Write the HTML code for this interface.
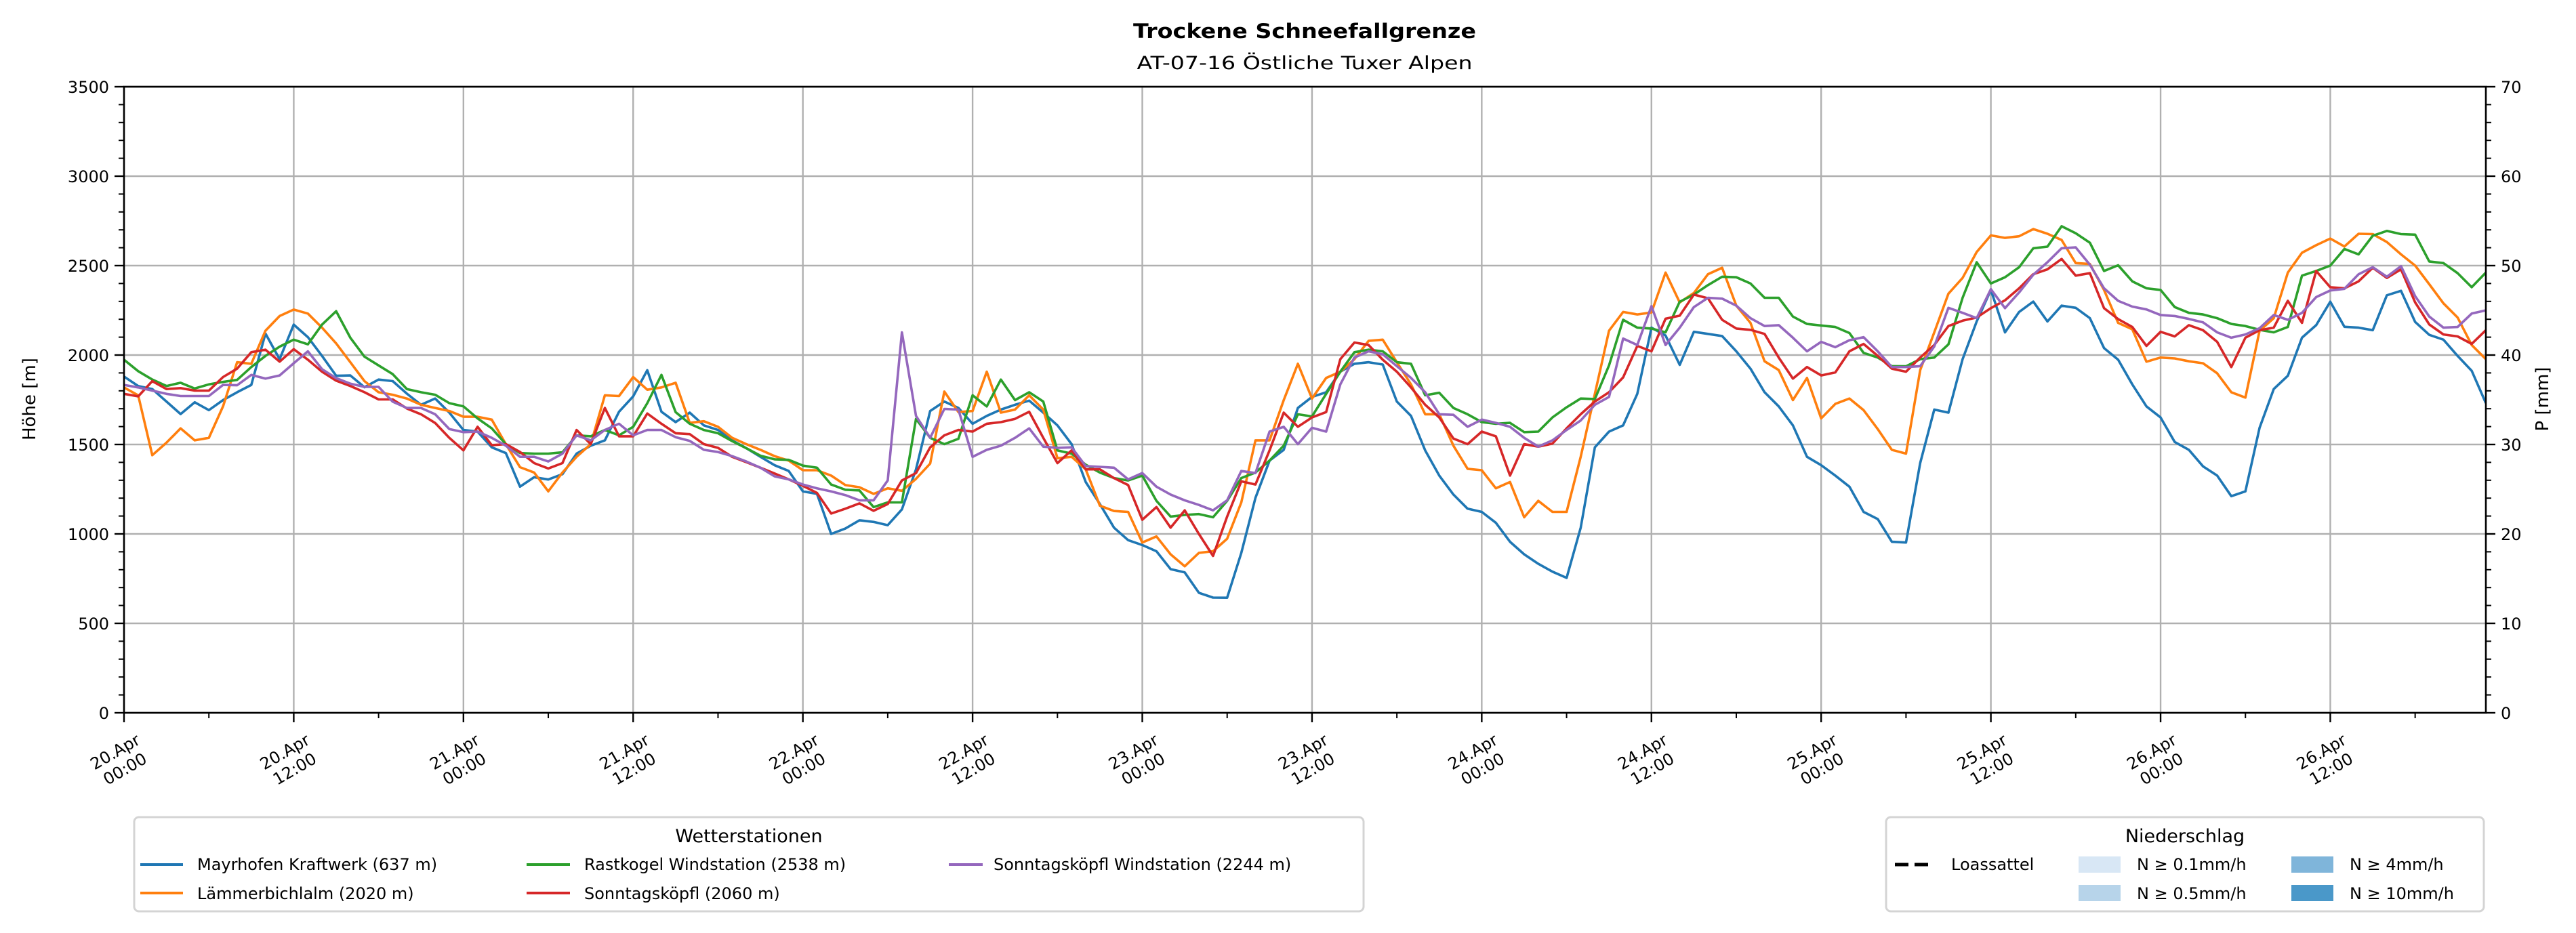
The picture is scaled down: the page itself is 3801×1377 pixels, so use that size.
<!DOCTYPE html>
<html><head><meta charset="utf-8"><style>
html,body{margin:0;padding:0;background:#fff;}
svg{display:block;font-family:"DejaVu Sans","Liberation Sans",sans-serif;}
</style></head><body>
<svg id="chart" xmlns="http://www.w3.org/2000/svg" width="3801" height="1377" viewBox="0 0 3801 1377">
<rect x="0" y="0" width="3801" height="1377" fill="#fff"/>
<text x="1925" y="56" text-anchor="middle" font-size="29" font-weight="bold" textLength="506" lengthAdjust="spacingAndGlyphs">Trockene Schneefallgrenze</text>
<text x="1925" y="102" text-anchor="middle" font-size="27" textLength="495" lengthAdjust="spacingAndGlyphs">AT-07-16 Östliche Tuxer Alpen</text>
<g id="grid"></g>
<g id="series"></g>
<g id="axes"></g>
<text transform="translate(52,589) rotate(-90)" text-anchor="middle" font-size="26">Höhe [m]</text>
<text transform="translate(3760,589) rotate(-90)" text-anchor="middle" font-size="26">P [mm]</text>

<g>
<rect x="198" y="1206" width="1814" height="139" rx="7" fill="#fff" stroke="#d4d4d4" stroke-width="3"/>
<text x="1105" y="1243" text-anchor="middle" font-size="27">Wetterstationen</text>
<g><line x1="207" y1="1276" x2="270" y2="1276" stroke="#1f77b4" stroke-width="4"/><text x="291" y="1284" font-size="24">Mayrhofen Kraftwerk (637 m)</text></g>
<g><line x1="207" y1="1318" x2="270" y2="1318" stroke="#ff7f0e" stroke-width="4"/><text x="291" y="1327" font-size="24">Lämmerbichlalm (2020 m)</text></g>
<g><line x1="777" y1="1276" x2="841" y2="1276" stroke="#2ca02c" stroke-width="4"/><text x="862" y="1284" font-size="24">Rastkogel Windstation (2538 m)</text></g>
<g><line x1="777" y1="1318" x2="841" y2="1318" stroke="#d62728" stroke-width="4"/><text x="862" y="1327" font-size="24">Sonntagsköpfl (2060 m)</text></g>
<g><line x1="1400" y1="1276" x2="1450" y2="1276" stroke="#9467bd" stroke-width="4"/><text x="1466" y="1284" font-size="24">Sonntagsköpfl Windstation (2244 m)</text></g>
</g>

<g>
<rect x="2783" y="1206" width="882" height="139" rx="7" fill="#fff" stroke="#d4d4d4" stroke-width="3"/>
<text x="3224" y="1243" text-anchor="middle" font-size="27">Niederschlag</text>
<g><line x1="2796" y1="1276" x2="2854" y2="1276" stroke="#000" stroke-width="5" stroke-dasharray="20,9"/><text x="2879" y="1284" font-size="24">Loassattel</text></g>
<g><rect x="3067" y="1264" width="62" height="24" fill="#d8e7f5"/><text x="3153" y="1284" font-size="24">N ≥ 0.1mm/h</text></g>
<g><rect x="3067" y="1306" width="62" height="24" fill="#b7d4ea"/><text x="3153" y="1327" font-size="24">N ≥ 0.5mm/h</text></g>
<g><rect x="3381" y="1264" width="62" height="24" fill="#7fb5da"/><text x="3467" y="1284" font-size="24">N ≥ 4mm/h</text></g>
<g><rect x="3381" y="1306" width="62" height="24" fill="#4a98c9"/><text x="3467" y="1327" font-size="24">N ≥ 10mm/h</text></g>
</g>
</svg>
<script>
// ---- data (hourly, starting 20.Apr 00:00) ----
const xTickLabels = ["20.Apr|00:00","20.Apr|12:00","21.Apr|00:00","21.Apr|12:00","22.Apr|00:00","22.Apr|12:00","23.Apr|00:00","23.Apr|12:00","24.Apr|00:00","24.Apr|12:00","25.Apr|00:00","25.Apr|12:00","26.Apr|00:00","26.Apr|12:00"];
const yTicks = [0,500,1000,1500,2000,2500,3000,3500];
const y2Ticks = [0,10,20,30,40,50,60,70];
const seriesNames = ["Mayrhofen Kraftwerk","Lämmerbichlalm","Rastkogel Windstation","Sonntagsköpfl","Sonntagsköpfl Windstation"];
const mayrhofen = [1880,1827,1810,1740,1670,1736,1692,1748,1792,1833,2120,1977,2170,2100,1995,1884,1886,1820,1863,1854,1784,1722,1757,1678,1581,1572,1484,1452,1264,1317,1304,1334,1449,1493,1523,1683,1769,1915,1683,1625,1678,1607,
1581,1523,1479,1431,1384,1352,1238,1224,1000,1030,1076,1067,1049,1137,1361,1687,1740,1704,1616,1660,1695,1722,1745,1678,1607,1502,1290,1167,1035,965,938,903,803,785,671,644,643,894,1202,1410,1470,1704,1766,
1792,1907,1951,1960,1947,1740,1660,1467,1326,1220,1141,1123,1062,956,886,833,789,754,1035,1484,1572,1607,1783,2153,2109,1945,2130,2118,2106,2021,1924,1792,1713,1607,1431,1384,1326,1264,1123,1083,956,952,
1396,1695,1678,1977,2188,2364,2127,2241,2299,2188,2276,2264,2206,2039,1974,1836,1713,1651,1514,1470,1378,1326,1211,1238,1593,1810,1884,2097,2167,2298,2158,2153,2139,2334,2359,2185,2113,2086,1995,1912,1731];
const laemmerbichl = [1819,1775,1440,1510,1590,1523,1537,1713,1960,1951,2136,2218,2254,2232,2153,2065,1960,1854,1792,1778,1757,1722,1704,1687,1655,1655,1639,1502,1373,1343,1238,1343,1431,1502,1775,1771,1877,1806,1819,1845,1621,1630,
1599,1537,1502,1470,1435,1410,1356,1356,1326,1273,1261,1224,1255,1241,1308,1393,1796,1681,1687,1907,1678,1695,1775,1695,1423,1431,1361,1158,1128,1123,952,986,886,819,894,903,973,1176,1523,1523,1748,1951,1757,
1872,1907,1977,2079,2086,1960,1836,1669,1669,1493,1364,1356,1255,1290,1093,1185,1123,1123,1431,1783,2136,2241,2227,2238,2461,2294,2347,2452,2488,2276,2180,1965,1916,1748,1872,1646,1727,1757,1692,1586,1470,1449,
1915,2127,2343,2431,2576,2669,2655,2664,2704,2678,2643,2514,2509,2364,2180,2144,1963,1986,1981,1965,1954,1898,1792,1762,2136,2206,2461,2572,2614,2651,2607,2678,2676,2632,2563,2500,2396,2289,2210,2056,1977];
const rastkogel = [1974,1910,1863,1827,1845,1813,1836,1850,1861,1933,1995,2047,2086,2060,2170,2245,2097,1991,1942,1893,1810,1792,1778,1731,1713,1646,1590,1502,1452,1449,1449,1456,1551,1546,1581,1551,1599,1731,1889,1681,1616,1581,
1563,1519,1479,1437,1417,1414,1382,1370,1276,1247,1243,1150,1176,1176,1643,1537,1502,1532,1775,1713,1863,1748,1792,1740,1467,1449,1387,1343,1312,1299,1326,1185,1097,1106,1111,1093,1185,1312,1343,1410,1493,1669,1657,
1783,1907,2016,2030,2021,1960,1951,1775,1789,1704,1669,1625,1616,1621,1569,1572,1651,1708,1757,1754,1942,2197,2153,2148,2127,2298,2338,2391,2438,2435,2400,2320,2320,2215,2174,2165,2157,2123,2012,1986,1938,1937,
1977,1986,2060,2320,2519,2400,2435,2491,2597,2606,2720,2681,2628,2470,2502,2412,2373,2364,2268,2236,2227,2206,2174,2162,2141,2127,2157,2444,2470,2500,2593,2563,2667,2694,2676,2673,2523,2514,2458,2379,2461];
const sonntagskoepfl = [1783,1769,1854,1810,1815,1801,1801,1877,1924,2016,2030,1963,2033,1974,1907,1857,1827,1792,1752,1752,1701,1669,1620,1537,1467,1599,1496,1502,1458,1396,1366,1396,1581,1502,1704,1546,1546,1673,1616,1563,1558,1502,
1481,1431,1401,1370,1338,1305,1269,1229,1114,1141,1171,1129,1167,1299,1340,1484,1551,1581,1572,1616,1625,1643,1683,1537,1396,1467,1361,1361,1312,1273,1079,1150,1035,1132,1000,877,1097,1294,1276,1467,1678,1599,1651,
1681,1977,2070,2056,1974,1907,1819,1722,1651,1533,1502,1572,1546,1326,1502,1488,1505,1590,1669,1740,1792,1875,2051,2021,2203,2220,2338,2317,2197,2148,2141,2118,1986,1868,1933,1886,1903,2021,2062,1995,1924,1907,
1986,2056,2162,2192,2210,2262,2306,2373,2452,2479,2537,2444,2458,2262,2201,2157,2051,2130,2104,2167,2139,2074,1933,2097,2139,2153,2303,2180,2470,2379,2373,2412,2488,2431,2479,2294,2171,2115,2104,2062,2139];
const sonntagWind = [1833,1819,1801,1783,1771,1771,1771,1833,1831,1889,1868,1886,1954,2021,1921,1871,1840,1822,1822,1739,1704,1704,1669,1586,1569,1572,1537,1493,1431,1431,1405,1449,1551,1523,1581,1616,1551,1581,1581,1541,1520,1470,
1458,1435,1405,1370,1322,1305,1276,1255,1238,1217,1188,1188,1299,2127,1660,1537,1699,1695,1431,1470,1493,1537,1590,1488,1481,1484,1379,1375,1370,1305,1340,1264,1220,1188,1162,1132,1188,1352,1340,1572,1599,1502,1593,
1572,1836,1986,2021,2004,1938,1872,1792,1669,1666,1599,1639,1621,1599,1537,1488,1523,1581,1634,1722,1766,2092,2056,2273,2056,2153,2268,2320,2315,2276,2206,2162,2167,2097,2021,2074,2044,2083,2100,2021,1933,1933,
1938,2048,2264,2236,2206,2368,2262,2350,2449,2519,2597,2602,2505,2373,2303,2271,2255,2224,2218,2202,2183,2127,2097,2115,2150,2224,2197,2236,2324,2361,2370,2452,2491,2438,2497,2329,2215,2153,2157,2232,2250];
const seriesValues = [mayrhofen, laemmerbichl, rastkogel, sonntagskoepfl, sonntagWind];
const seriesColors = ["#1f77b4","#ff7f0e","#2ca02c","#d62728","#9467bd"];
const seriesKeys = ["series-mayrhofen","series-laemmerbichlalm","series-rastkogel","series-sonntagskoepfl","series-sonntagskoepfl-wind"];

// ---- axes ----
const NS = "http://www.w3.org/2000/svg";
const L = 183, R = 3668, T = 128, B = 1052;
const HMAX = 167, YMAX = 3500, Y2MAX = 70;
function xs(h){ return L + (R - L) * h / HMAX; }
function ys(v){ return B - (B - T) * v / YMAX; }
function y2s(v){ return B - (B - T) * v / Y2MAX; }
function mk(tag, attrs, parent){ const e = document.createElementNS(NS, tag); for (const k in attrs) e.setAttribute(k, attrs[k]); parent.appendChild(e); return e; }

const grid = document.getElementById("grid");
const axes = document.getElementById("axes");
const series = document.getElementById("series");

yTicks.forEach(v => {
  const y = ys(v);
  const g = mk("line", {x1:L, x2:R, y1:y, y2:y, stroke:"#b0b0b0", "stroke-width":2.4}, grid);
  
  
  const t = mk("line", {x1:L-14, x2:L, y1:y, y2:y, stroke:"#000", "stroke-width":2.4}, axes);
  
  
  const lb = mk("text", {x:L-22, y:y+9, "text-anchor":"end", "font-size":24}, axes);
  lb.textContent = v;
  
  
});
for (let v = 0; v <= YMAX; v += 100) {
  if (v % 500 === 0) continue;
  const m = mk("line", {x1:L-8, x2:L, y1:ys(v), y2:ys(v), stroke:"#000", "stroke-width":2}, axes);
  
  
}
y2Ticks.forEach(v => {
  const y = y2s(v);
  const t = mk("line", {x1:R, x2:R+14, y1:y, y2:y, stroke:"#000", "stroke-width":2.4}, axes);
  
  
  const lb = mk("text", {x:R+22, y:y+9, "text-anchor":"start", "font-size":24}, axes);
  lb.textContent = v;
  
  
});
for (let v = 0; v <= Y2MAX; v += 2) {
  if (v % 10 === 0) continue;
  const m = mk("line", {x1:R, x2:R+8, y1:y2s(v), y2:y2s(v), stroke:"#000", "stroke-width":2}, axes);
  
  
}
xTickLabels.forEach((lab, i) => {
  const h = i * 12, x = xs(h);
  if (i > 0) {
    const g = mk("line", {x1:x, x2:x, y1:T, y2:B, stroke:"#b0b0b0", "stroke-width":2.4}, grid);
    
    
  }
  const t = mk("line", {x1:x, x2:x, y1:B, y2:B+14, stroke:"#000", "stroke-width":2.4}, axes);
  
  
  const parts = lab.split("|");
  const cx = x - 6, cy = 1122;
  const tx = mk("text", {x:cx, y:cy, "text-anchor":"middle", "font-size":24, transform:`rotate(-30 ${cx} ${cy})`}, axes);
  
  
  const s1 = mk("tspan", {x:cx, dy:-6}, tx); s1.textContent = parts[0];
  const s2 = mk("tspan", {x:cx, dy:29}, tx); s2.textContent = parts[1];
});
for (let h = 6; h <= HMAX; h += 12) {
  const m = mk("line", {x1:xs(h), x2:xs(h), y1:B, y2:B+8, stroke:"#000", "stroke-width":2}, axes);
  
  
}
const clip = mk("clipPath", {id:"plotclip"}, document.getElementById("chart"));
mk("rect", {x:L, y:T, width:R-L, height:B-T}, clip);
seriesValues.forEach((vals, si) => {
  const d = vals.map((v, h) => (h ? "L" : "M") + xs(h).toFixed(1) + "," + ys(v).toFixed(1)).join(" ");
  const p = mk("path", {d:d, fill:"none", stroke:seriesColors[si], "stroke-width":3.6, "stroke-linejoin":"round", "clip-path":"url(#plotclip)"}, series);
  
  
});
const frame = mk("rect", {x:L, y:T, width:R-L, height:B-T, fill:"none", stroke:"#000", "stroke-width":2.6}, axes);


</script>
</body></html>
